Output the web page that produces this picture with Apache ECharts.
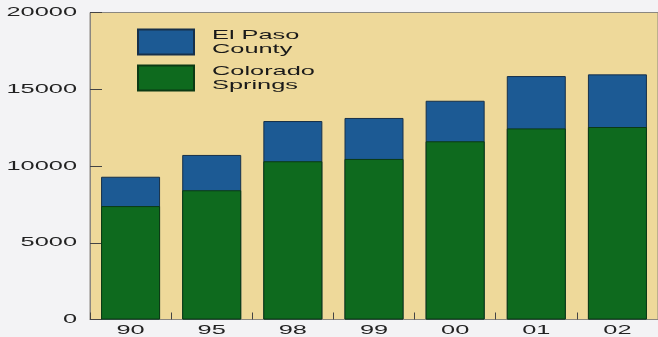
<!DOCTYPE html>
<html>
<head>
<meta charset="utf-8">
<script src="https://cdn.jsdelivr.net/npm/echarts@6/dist/echarts.min.js"></script>
<style>
html,body{margin:0;padding:0;background:#f3f3f5;}
#chart{width:658px;height:337px;}
</style>
</head>
<body>
<div id="chart"></div>
<script>
// Data
const years = ['90', '95', '98', '99', '00', '01', '02'];
const countyTotal = [9300, 10720, 12930, 13130, 14250, 15860, 15970];
const citySprings = [7390, 8420, 10310, 10460, 11610, 12450, 12540];
const yTicks = [0, 5000, 10000, 15000, 20000];
const seriesNames = ['El Paso County', 'Colorado Springs'];
const legendLabels = {'El Paso County': 'El Paso\nCounty', 'Colorado Springs': 'Colorado\nSprings'};

// Horizontally stretched lettering (extended sans face of the original)
const K = 1.95;
const origFill = CanvasRenderingContext2D.prototype.fillText;
CanvasRenderingContext2D.prototype.fillText = function (t, x, y) {
  this.save();
  this.translate(x, y);
  this.scale(K, 1);
  origFill.call(this, t, 0, 0);
  this.restore();
};

const chart = echarts.init(document.getElementById('chart'), null, {renderer: 'canvas'});
const font = 'Liberation Sans';
chart.setOption({
  backgroundColor: '#f3f3f5',
  animation: false,
  textStyle: {fontFamily: font},
  grid: {
    left: 90, right: -5, top: 12.5, bottom: 17.5,
    show: true, backgroundColor: '#eed99a', borderColor: '#8a8780', borderWidth: 1,
    containLabel: false
  },
  legend: {
    orient: 'vertical', left: 137, top: 26.5, padding: 0, itemWidth: 56, itemHeight: 25, itemGap: 5,
    icon: 'rect', selectedMode: false,
    data: seriesNames,
    formatter: n => legendLabels[n],
    textStyle: {fontFamily: font, fontSize: 13, color: '#1a1a1a', lineHeight: 14, padding: [3, 0, 0, 13]}
  },
  xAxis: {
    type: 'category', data: years,
    axisLine: {show: true, lineStyle: {color: '#8a8780', width: 1}},
    axisTick: {show: true, inside: true, length: 7, alignWithLabel: false, lineStyle: {color: '#444'}},
    axisLabel: {fontFamily: font, fontSize: 13, color: '#222', margin: 4}
  },
  yAxis: {
    type: 'value', min: yTicks[0], max: yTicks[yTicks.length - 1], interval: yTicks[1] - yTicks[0],
    splitLine: {show: false},
    axisLine: {show: true, lineStyle: {color: '#8a8780', width: 1}},
    axisTick: {show: true, inside: true, length: 12, lineStyle: {color: '#444'}},
    axisLabel: {fontFamily: font, fontSize: 13, color: '#222', margin: 13, formatter: v => String(v)}
  },
  series: [
    {
      name: seriesNames[0], type: 'bar', data: countyTotal, barWidth: 59, barGap: '-100%',
      itemStyle: {color: '#1c5a94', borderColor: '#16304a', borderWidth: 1}
    },
    {
      name: seriesNames[1], type: 'bar', data: citySprings, barWidth: 59, barGap: '-100%',
      itemStyle: {color: '#0e6a1e', borderColor: '#0b3a14', borderWidth: 1}
    }
  ]
});
</script>
</body>
</html>
